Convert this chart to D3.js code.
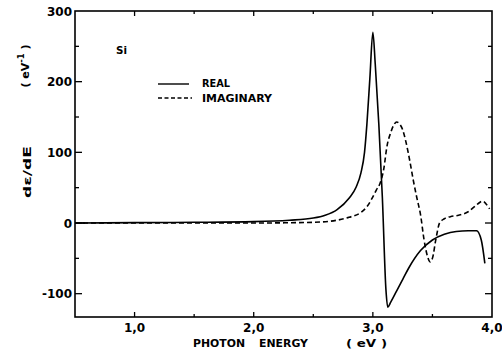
<!DOCTYPE html>
<html><head><meta charset="utf-8">
<script src="https://cdn.jsdelivr.net/npm/d3@7"></script>
<style>body{margin:0;background:#fff}svg text{font-family:"DejaVu Sans",sans-serif;font-weight:bold;fill:#000}</style>
</head><body><svg id="c" width="502" height="352"></svg>
<script>
const realE = [0.5,1.0,1.5,2.0,2.3,2.5,2.6,2.7,2.8,2.86,2.9,2.93,2.95,2.975,3.0,3.02,3.05,3.08,3.11,3.125,3.15,3.2,3.25,3.3,3.4,3.5,3.6,3.7,3.8,3.87,3.91,3.94];
const realV = [0,0.5,1,2,4,7,11,19,35,51,71,100,140,205,270,225,140,35,-95,-119,-112,-96,-80,-64,-39,-24,-16,-12,-11,-11,-24,-57];
const imagE = [0.5,1.0,1.5,2.0,2.5,2.7,2.8,2.9,2.95,3.0,3.03,3.06,3.09,3.12,3.15,3.18,3.2,3.22,3.25,3.28,3.31,3.34,3.37,3.4,3.43,3.46,3.48,3.5,3.53,3.56,3.6,3.65,3.72,3.8,3.86,3.92,3.95,3.98];
const imagV = [0,0,0,0,1,4,8,15,23,37,47,56,75,110,128,140,143,141,132,113,88,60,35,12,-24,-48,-55,-50,-22,0,6,9,11,16,24,31,27,20];
const xMajor = [1.0,2.0,3.0,4.0];
const xMinor = [1.5,2.5,3.5];
const xTickLabels = ["1,0","2,0","3,0","4,0"];
const yMajor = [-100,0,100,200,300];
const yMinor = [-50,50,150,250];
const yTickLabels = ["-100","0","100","200","300"];

const L=75,R=492,T=11,B=317;
const x=d3.scaleLinear().domain([0.5,4.0]).range([L,R]);
const y=d3.scaleLinear().domain([-133,300]).range([B,T]);
const svg=d3.select("#c");
const g=svg.append("g");
g.append("rect").attr("x",L).attr("y",T).attr("width",R-L).attr("height",B-T).attr("fill","none").attr("stroke","#000").attr("stroke-width",1.6);
xMajor.concat(xMinor).forEach(v=>{
  const maj=xMajor.includes(v);
  const len=maj?5:3;
  if(v<4.0){
  g.append("line").attr("x1",x(v)).attr("x2",x(v)).attr("y1",B).attr("y2",B-len).attr("stroke","#000").attr("stroke-width",1.3);
  g.append("line").attr("x1",x(v)).attr("x2",x(v)).attr("y1",T).attr("y2",T+len).attr("stroke","#000").attr("stroke-width",1.3);
  }
});
xMajor.forEach((v,i)=>g.append("text").attr("x",x(v)).attr("y",332).attr("text-anchor","middle").attr("font-size",12).text(xTickLabels[i]));
yMajor.concat(yMinor).forEach(v=>{
  const maj=yMajor.includes(v);
  const len=maj?7:4;
  if(v<300){
  g.append("line").attr("x1",L).attr("x2",L+len).attr("y1",y(v)).attr("y2",y(v)).attr("stroke","#000").attr("stroke-width",1.3);
  g.append("line").attr("x1",R).attr("x2",R-len).attr("y1",y(v)).attr("y2",y(v)).attr("stroke","#000").attr("stroke-width",1.3);
  }
});
yMajor.forEach((v,i)=>g.append("text").attr("x",72).attr("y",y(v)+4.5).attr("text-anchor","end").attr("font-size",12).text(yTickLabels[i]));
g.append("line").attr("x1",L).attr("x2",L+10).attr("y1",y(0)).attr("y2",y(0)).attr("stroke","#000").attr("stroke-width",1.6);

const line=d3.line().x(d=>x(d[0])).y(d=>y(d[1])).curve(d3.curveMonotoneX);
g.append("path").datum(realE.map((e,i)=>[e,realV[i]])).attr("d",line).attr("fill","none").attr("stroke","#000").attr("stroke-width",1.6);
g.append("path").datum(imagE.map((e,i)=>[e,imagV[i]])).attr("d",line).attr("fill","none").attr("stroke","#000").attr("stroke-width",1.6).attr("stroke-dasharray","5,3");

function txt(xp,yp,s,size,len){
  const t=g.append("text").attr("x",xp).attr("y",yp).attr("font-size",size).text(s);
  if(len) t.attr("textLength",len).attr("lengthAdjust","spacingAndGlyphs");
  return t;
}
txt(116,54,"Si",10.5,11);
g.append("line").attr("x1",158).attr("x2",189).attr("y1",84).attr("y2",84).attr("stroke","#000").attr("stroke-width",1.4);
g.append("line").attr("x1",158).attr("x2",192).attr("y1",98).attr("y2",98).attr("stroke","#000").attr("stroke-width",1.4).attr("stroke-dasharray","4,2.5");
txt(202,87,"REAL",10.5,28);
txt(202,102,"IMAGINARY",10.5,70);
txt(193,347,"PHOTON",11,52);
txt(259,347,"ENERGY",11,49);
txt(346,347,"( eV )",11,41);
g.append("text").attr("transform","translate(31,172) rotate(-90)").attr("text-anchor","middle").attr("font-size",11).attr("textLength",52).attr("lengthAdjust","spacingAndGlyphs").text("dε/dE");
const t2=g.append("text").attr("transform","translate(29,66) rotate(-90)").attr("text-anchor","middle").attr("font-size",11);
t2.append("tspan").text("( eV");
t2.append("tspan").attr("dy",-5).attr("font-size",8.5).text("-1");
t2.append("tspan").attr("dy",5).text(" )");
</script></body></html>
